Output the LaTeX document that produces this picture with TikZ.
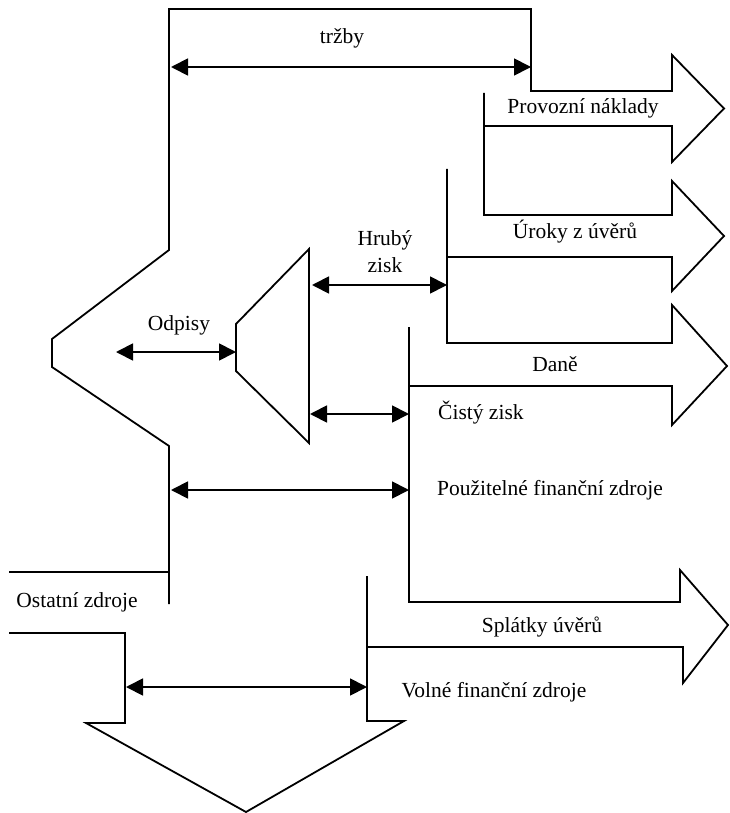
\documentclass[tikz,border=0pt]{standalone}
\usepackage{fontspec}
\setmainfont{Liberation Serif}
\usetikzlibrary{arrows.meta}
\begin{document}
\begin{tikzpicture}[x=1pt,y=-1pt,
  outline/.style={line width=1.8pt,line join=miter},
  dimarrow/.style={line width=1.8pt,{Triangle[length=17pt,width=17pt]}-{Triangle[length=17pt,width=17pt]}},
  lbl/.style={inner sep=0pt,font=\fontsize{21.5}{24}\selectfont},
  lblL/.style={lbl,anchor=west}]
\useasboundingbox (0,0) rectangle (729,813);
% main outline: left column, chevron, top rectangle, Provozni arrow
\draw[outline] (169,604) -- (169,446) -- (52,367) -- (52,339) -- (169,250) -- (169,9)
  -- (531,9) -- (531,91) -- (672,91) -- (672,55) -- (724,108.5) -- (672,162) -- (672,126) -- (484,126);
% Uroky arrow
\draw[outline] (484,93) -- (484,215) -- (672,215) -- (672,181) -- (724,236) -- (672,291) -- (672,257) -- (447,257);
% Dane arrow
\draw[outline] (447,169) -- (447,343) -- (672,343) -- (672,305) -- (727,366) -- (672,425) -- (672,386) -- (409,386);
% Splatky arrow
\draw[outline] (409,327) -- (409,602) -- (680,602) -- (680,570) -- (728,625) -- (683,683) -- (683,647) -- (367,647);
% down arrow
\draw[outline] (367,576) -- (367,721) -- (404,721) -- (246,812) -- (86,723) -- (125,723) -- (125,633) -- (9,633);
% Ostatni zdroje top line
\draw[outline] (9,572) -- (169,572);
% trapezoid
\draw[outline] (309,249) -- (309,443) -- (236,371) -- (236,324) -- cycle;

% coordinates of dimension arrows
\coordinate (trzA) at (171,67);  \coordinate (trzB) at (531,67);
\coordinate (odpA) at (116,352); \coordinate (odpB) at (236,352);
\coordinate (hruA) at (312,285); \coordinate (hruB) at (447,285);
\coordinate (cisA) at (310,414); \coordinate (cisB) at (409,414);
\coordinate (pouA) at (171,490); \coordinate (pouB) at (409,490);
\coordinate (volA) at (126,687); \coordinate (volB) at (367,687);
\draw[dimarrow] (trzA) -- (trzB);
\draw[dimarrow] (odpA) -- (odpB);
\draw[dimarrow] (hruA) -- (hruB);
\draw[dimarrow] (cisA) -- (cisB);
\draw[dimarrow] (pouA) -- (pouB);
\draw[dimarrow] (volA) -- (volB);

% labels
\node[lbl] (ltrz) at (342,38) {tržby};
\node[lbl] (lprov) at (583,108) {Provozní náklady};
\node[lbl] (luro) at (575,232) {Úroky z úvěrů};
\node[lbl] (lhru1) at (385,240) {Hrubý};
\node[lbl] (lhru2) at (385,265) {zisk};
\node[lbl] (lodp) at (179,325) {Odpisy};
\node[lbl] (ldan) at (555,364) {Daně};
\node[lblL] (lcis) at (438,413) {Čistý zisk};
\node[lblL] (lpou) at (437,490) {Použitelné finanční zdroje};
\node[lbl] (lost) at (77,602) {Ostatní zdroje};
\node[lbl] (lspl) at (542,627) {Splátky úvěrů};
\node[lbl] (lvol) at (494,692) {Volné finanční zdroje};
\end{tikzpicture}
\end{document}
